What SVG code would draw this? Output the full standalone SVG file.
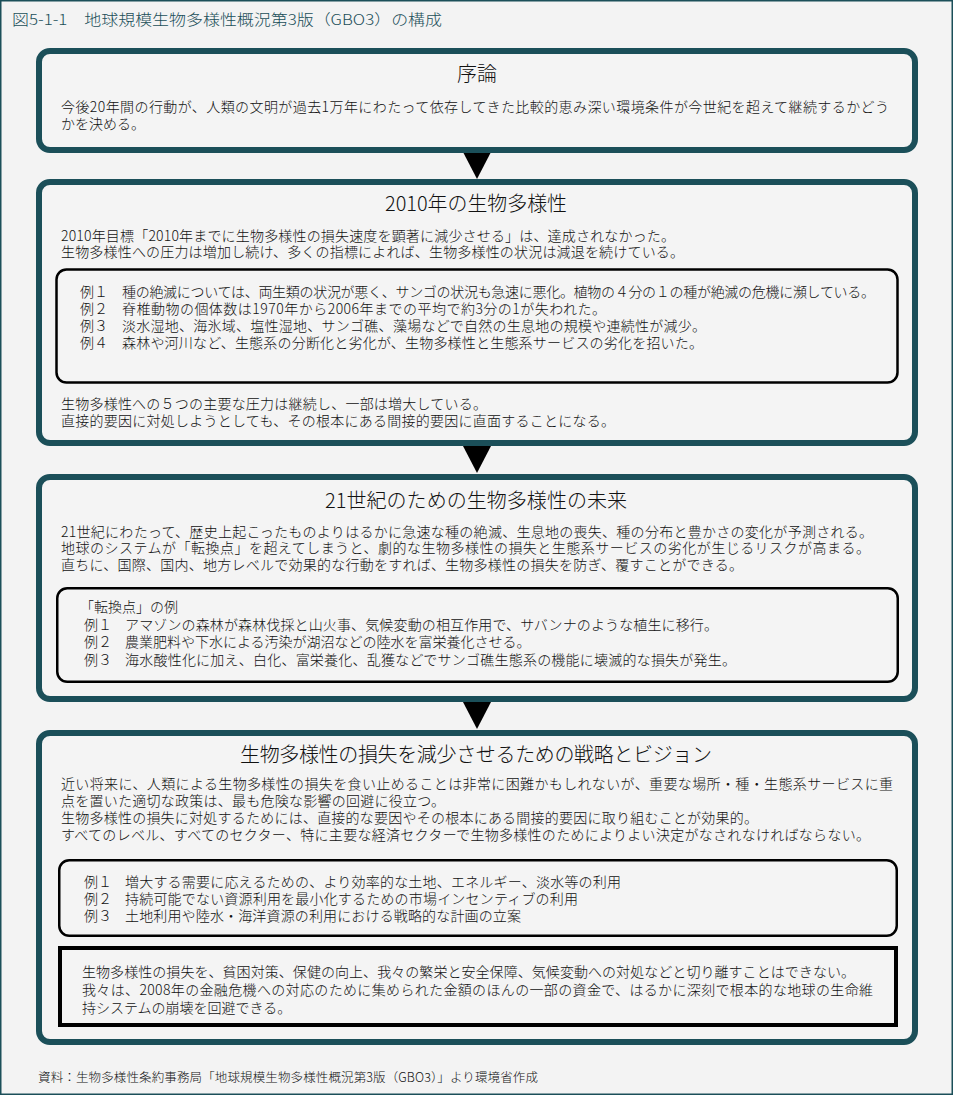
<svg xmlns="http://www.w3.org/2000/svg" width="953" height="1095" viewBox="0 0 953 1095">
<style>
text{font-family:"Noto Sans CJK JP","Noto Sans CJK SC",sans-serif;fill:#111;font-weight:300;}
.t{font-size:14px;}
.h{font-size:20px;}
.title{font-size:15px;fill:#1b4f59;}
.src{font-size:12.5px;}
.outer{fill:#f4f4f4;stroke:#1b4f59;stroke-width:6;}
.inner{fill:#f4f4f4;stroke:#000;stroke-width:2.5;}
.sq{fill:#f4f4f4;stroke:#000;stroke-width:4;}
.arr{fill:#000;}
</style>
<rect x="0.75" y="0.75" width="951.5" height="1093.5" fill="#f3f3f3" stroke="#1b4f59" stroke-width="1.5"/>
<text class="title" x="12" y="25" textLength="430" lengthAdjust="spacingAndGlyphs">図5-1-1　地球規模生物多様性概況第3版（GBO3）の構成</text>

<g id="connectors">
<polygon class="arr" points="463,152 491,152 477,179"/>
<polygon class="arr" points="463,446 491,446 477,473"/>
<polygon class="arr" points="463,702 491,702 477,729"/>
</g>

<g id="node-intro">
<rect class="outer" x="39" y="51" width="876" height="99" rx="11"/>
<text class="h" x="457" y="81" textLength="40">序論</text>
<text class="t" x="61" y="112" textLength="828">今後20年間の行動が、人類の文明が過去1万年にわたって依存してきた比較的恵み深い環境条件が今世紀を超えて継続するかどう</text>
<text class="t" x="61" y="129">かを決める。</text>
</g>

<g id="node-2010">
<rect class="outer" x="39" y="182" width="876" height="261" rx="11"/>
<text class="h" x="385" y="211" textLength="182" lengthAdjust="spacingAndGlyphs">2010年の生物多様性</text>
<text class="t" x="61" y="241" textLength="614">2010年目標「2010年までに生物多様性の損失速度を顕著に減少させる」は、達成されなかった。</text>
<text class="t" x="61" y="257" textLength="623">生物多様性への圧力は増加し続け、多くの指標によれば、生物多様性の状況は減退を続けている。</text>
<g id="node-2010-examples">
<rect class="inner" x="56.5" y="269.5" width="841" height="113" rx="10"/>
<text class="t" x="80" y="297">例１</text>
<text class="t" x="122" y="297" textLength="753">種の絶滅については、両生類の状況が悪く、サンゴの状況も急速に悪化。植物の４分の１の種が絶滅の危機に瀕している。</text>
<text class="t" x="80" y="314">例２</text>
<text class="t" x="122" y="314" textLength="484">脊椎動物の個体数は1970年から2006年までの平均で約3分の1が失われた。</text>
<text class="t" x="80" y="331">例３</text>
<text class="t" x="122" y="331" textLength="584">淡水湿地、海氷域、塩性湿地、サンゴ礁、藻場などで自然の生息地の規模や連続性が減少。</text>
<text class="t" x="80" y="348">例４</text>
<text class="t" x="122" y="348" textLength="581">森林や河川など、生態系の分断化と劣化が、生物多様性と生態系サービスの劣化を招いた。</text>
</g>
<text class="t" x="61" y="409" textLength="426">生物多様性への５つの主要な圧力は継続し、一部は増大している。</text>
<text class="t" x="61" y="426" textLength="554">直接的要因に対処しようとしても、その根本にある間接的要因に直面することになる。</text>
</g>

<g id="node-future">
<rect class="outer" x="39" y="477" width="876" height="222" rx="11"/>
<text class="h" x="325" y="508" textLength="302">21世紀のための生物多様性の未来</text>
<text class="t" x="61" y="537" textLength="812">21世紀にわたって、歴史上起こったものよりはるかに急速な種の絶滅、生息地の喪失、種の分布と豊かさの変化が予測される。</text>
<text class="t" x="61" y="553" textLength="809">地球のシステムが「転換点」を超えてしまうと、劇的な生物多様性の損失と生態系サービスの劣化が生じるリスクが高まる。</text>
<text class="t" x="61" y="570" textLength="682">直ちに、国際、国内、地方レベルで効果的な行動をすれば、生物多様性の損失を防ぎ、覆すことができる。</text>
<g id="node-future-examples">
<rect class="inner" x="57.25" y="588.25" width="840.5" height="93.5" rx="10"/>
<text class="t" x="80" y="612">「転換点」の例</text>
<text class="t" x="84" y="630">例１</text>
<text class="t" x="125" y="630" textLength="593">アマゾンの森林が森林伐採と山火事、気候変動の相互作用で、サバンナのような植生に移行。</text>
<text class="t" x="84" y="647">例２</text>
<text class="t" x="125" y="647">農業肥料や下水による汚染が湖沼などの陸水を富栄養化させる。</text>
<text class="t" x="84" y="665">例３</text>
<text class="t" x="125" y="665" textLength="611">海水酸性化に加え、白化、富栄養化、乱獲などでサンゴ礁生態系の機能に壊滅的な損失が発生。</text>
</g>
</g>

<g id="node-strategy">
<rect class="outer" x="39" y="733" width="876" height="309" rx="11"/>
<text class="h" x="240" y="762" textLength="472">生物多様性の損失を減少させるための戦略とビジョン</text>
<text class="t" x="61" y="789" textLength="832">近い将来に、人類による生物多様性の損失を食い止めることは非常に困難かもしれないが、重要な場所・種・生態系サービスに重</text>
<text class="t" x="61" y="806" textLength="384">点を置いた適切な政策は、最も危険な影響の回避に役立つ。</text>
<text class="t" x="61" y="823" textLength="697">生物多様性の損失に対処するためには、直接的な要因やその根本にある間接的要因に取り組むことが効果的。</text>
<text class="t" x="61" y="840" textLength="809">すべてのレベル、すべてのセクター、特に主要な経済セクターで生物多様性のためによりよい決定がなされなければならない。</text>
<g id="node-strategy-examples">
<rect class="inner" x="59.25" y="860.25" width="837.5" height="75.5" rx="10"/>
<text class="t" x="84" y="887">例１</text>
<text class="t" x="125" y="887" textLength="496">増大する需要に応えるための、より効率的な土地、エネルギー、淡水等の利用</text>
<text class="t" x="84" y="904">例２</text>
<text class="t" x="125" y="904" textLength="453">持続可能でない資源利用を最小化するための市場インセンティブの利用</text>
<text class="t" x="84" y="921">例３</text>
<text class="t" x="125" y="921" textLength="396">土地利用や陸水・海洋資源の利用における戦略的な計画の立案</text>
</g>
<g id="node-strategy-note">
<rect class="sq" x="60" y="948" width="836" height="77"/>
<text class="t" x="82" y="977" textLength="773">生物多様性の損失を、貧困対策、保健の向上、我々の繁栄と安全保障、気候変動への対処などと切り離すことはできない。</text>
<text class="t" x="82" y="995" textLength="791">我々は、2008年の金融危機への対応のために集められた金額のほんの一部の資金で、はるかに深刻で根本的な地球の生命維</text>
<text class="t" x="82" y="1013">持システムの崩壊を回避できる。</text>
</g>
</g>

<text class="src" x="38" y="1082" textLength="500">資料：生物多様性条約事務局「地球規模生物多様性概況第3版（GBO3）」より環境省作成</text>
</svg>
